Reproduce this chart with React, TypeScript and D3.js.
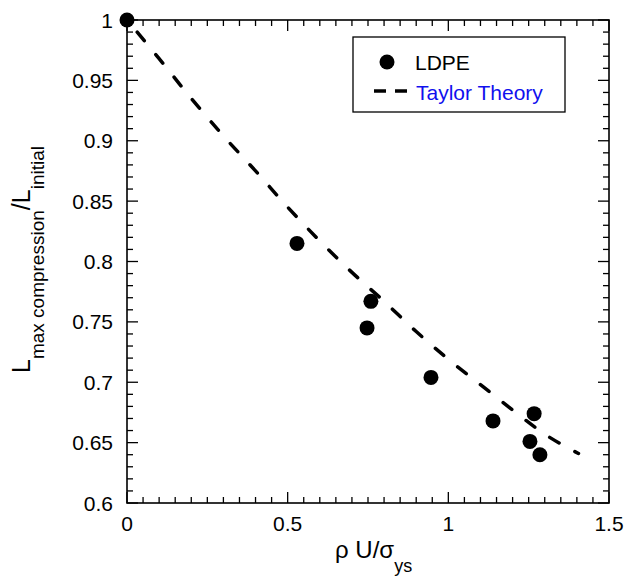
import React from "react";
import * as d3 from "d3";

const ldpeX = [0, 0.529, 0.759, 0.747, 0.946, 1.139, 1.267, 1.254, 1.285];
const ldpeY = [1.0, 0.815, 0.767, 0.745, 0.704, 0.668, 0.674, 0.651, 0.640];

const taylorX = [0, 0.1, 0.2, 0.3, 0.4, 0.5, 0.6, 0.7, 0.8, 0.9, 1.0, 1.1, 1.2, 1.3, 1.405];
const taylorY = [1.0, 0.968, 0.935, 0.904, 0.875, 0.845, 0.817, 0.791, 0.767, 0.742, 0.719, 0.698, 0.677, 0.657, 0.641];

const xTickLabels = ["0", "0.5", "1", "1.5"];
const xTickValues = [0, 0.5, 1, 1.5];
const yTickLabels = ["0.6", "0.65", "0.7", "0.75", "0.8", "0.85", "0.9", "0.95", "1"];
const yTickValues = [0.6, 0.65, 0.7, 0.75, 0.8, 0.85, 0.9, 0.95, 1.0];

const legendLabels = ["LDPE", "Taylor Theory"];

const FONT = "'Liberation Sans', Arial, Helvetica, sans-serif";

export default function App() {
  const W = 629, H = 577;
  const left = 127, right = 609, top = 20, bottom = 503;
  const x = d3.scaleLinear().domain([0, 1.5]).range([left, right]);
  const y = d3.scaleLinear().domain([0.6, 1.0]).range([bottom, top]);

  const xMinor = d3.range(0, 1.5001, 0.05);
  const yMinor = d3.range(0.6, 1.0001, 0.01);

  const line = d3
    .line<number>()
    .x((_, i) => x(taylorX[i]))
    .y((d) => y(d))
    .curve(d3.curveMonotoneX);

  const isMajor = (v: number, step: number) => Math.abs(v / step - Math.round(v / step)) < 1e-6;

  return (
    <svg width={W} height={H} style={{ position: "absolute", left: 0, top: 0, background: "#fff" }} fontFamily={FONT}>
      <rect x={0} y={0} width={W} height={H} fill="#fff" />
      {/* ticks */}
      {xMinor.map((v, i) => {
        const L = isMajor(v, 0.5) ? 11 : 6;
        return (
          <g key={"xt" + i} stroke="#000" strokeWidth={1.3}>
            <line x1={x(v)} x2={x(v)} y1={bottom} y2={bottom - L} />
            <line x1={x(v)} x2={x(v)} y1={top} y2={top + L} />
          </g>
        );
      })}
      {yMinor.map((v, i) => {
        const L = isMajor(v, 0.05) ? 11 : 6;
        return (
          <g key={"yt" + i} stroke="#000" strokeWidth={1.3}>
            <line x1={left} x2={left + L} y1={y(v)} y2={y(v)} />
            <line x1={right} x2={right - L} y1={y(v)} y2={y(v)} />
          </g>
        );
      })}
      <rect x={left} y={top} width={right - left} height={bottom - top} fill="none" stroke="#000" strokeWidth={1.6} />
      {/* tick labels */}
      {xTickValues.map((v, i) => (
        <text key={"xl" + i} x={x(v)} y={531} textAnchor="middle" fontSize={21} fill="#000">
          {xTickLabels[i]}
        </text>
      ))}
      {yTickValues.map((v, i) => (
        <text key={"yl" + i} x={113} y={y(v)} dy="0.36em" textAnchor="end" fontSize={21} fill="#000">
          {yTickLabels[i]}
        </text>
      ))}
      {/* axis titles */}
      <text x={335} y={558} fontSize={24} fill="#000">
        ρ U/σ
        <tspan fontSize={18} dy={14}>ys</tspan>
      </text>
      <text transform={`translate(30,373) rotate(-90)`} fontSize={25} fill="#000">
        L
        <tspan fontSize={19} dy={14}>max compression</tspan>
        <tspan dy={-14}>/L</tspan>
        <tspan fontSize={19} dy={14}>initial</tspan>
      </text>
      {/* Taylor theory */}
      <path
        d={line(taylorY) || ""}
        fill="none"
        stroke="#000"
        strokeWidth={3.5}
        strokeDasharray="11,18"
        strokeDashoffset={13}
        strokeLinecap="round"
      />
      {/* data */}
      {ldpeX.map((v, i) => (
        <circle key={"p" + i} cx={x(v)} cy={y(ldpeY[i])} r={7.5} fill="#000" />
      ))}
      {/* legend */}
      <rect x={353} y={37} width={212} height={75} fill="#fff" stroke="#000" strokeWidth={1.3} />
      <circle cx={387} cy={62} r={7.5} fill="#000" />
      <text x={415} y={70} fontSize={21} fill="#000">{legendLabels[0]}</text>
      <line x1={374} x2={386} y1={91} y2={91} stroke="#000" strokeWidth={3.5} />
      <line x1={395} x2={407} y1={91} y2={91} stroke="#000" strokeWidth={3.5} />
      <text x={416} y={100} fontSize={21} fill="#1010ee">{legendLabels[1]}</text>
    </svg>
  );
}
